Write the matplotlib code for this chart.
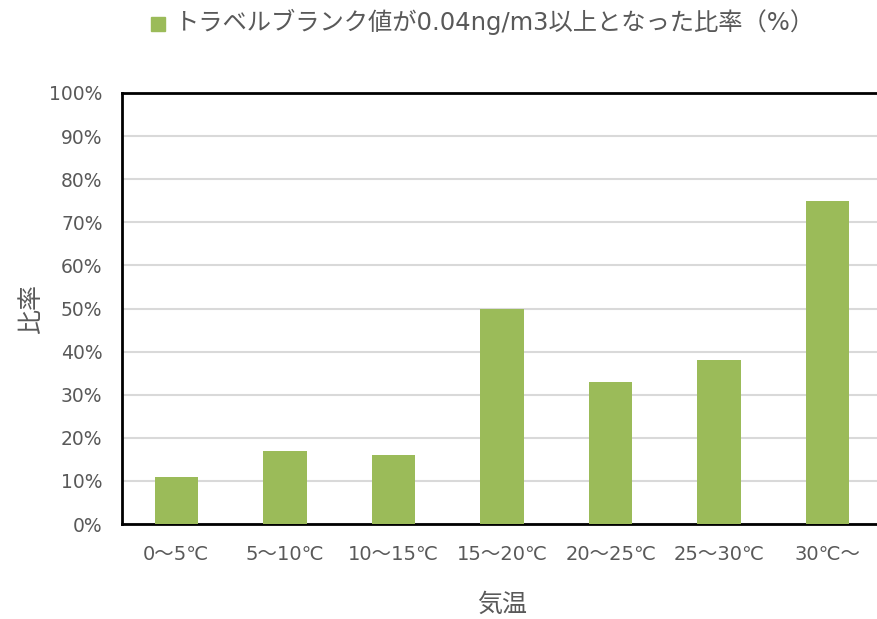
import matplotlib
matplotlib.use("Agg")
import matplotlib.pyplot as plt
from matplotlib.patches import Rectangle

plt.rcParams['font.family'] = ['DejaVu Sans', 'Noto Sans CJK JP']

categories = ["0〜5℃", "5〜10℃", "10〜15℃", "15〜20℃", "20〜25℃", "25〜30℃", "30℃〜"]
ratios = [11, 17, 16, 50, 33, 38, 75]
yticks = [0, 10, 20, 30, 40, 50, 60, 70, 80, 90, 100]
legend_label = "トラベルブランク値が0.04ng/m3以上となった比率（%）"

bar_color = "#9bbb59"
text_color = "#595959"
cjk = ['Noto Sans CJK JP', 'DejaVu Sans']

fig = plt.figure(figsize=(8.77, 6.19), dpi=100)
ax = fig.add_axes([122 / 877, 1 - 524 / 619, 760 / 877, 431 / 619])

x = list(range(len(categories)))
ax.bar(x, ratios, width=0.4, color=bar_color, zorder=3)

ax.set_xlim(-0.5, len(categories) - 0.5)
ax.set_ylim(0, 100)
ax.set_yticks(yticks)
ax.set_yticklabels([f"{v}%" for v in yticks], color=text_color, fontsize=13.5)
ax.set_xticks(x)
ax.set_xticklabels(categories, color=text_color, fontsize=14)
ax.tick_params(axis='y', length=0, pad=14)
ax.tick_params(axis='x', length=0, pad=15)

ax.grid(axis='y', color="#d9d9d9", linewidth=1.5, zorder=0)
for side in ['top', 'left', 'bottom', 'right']:
    ax.spines[side].set_color('black')
    ax.spines[side].set_linewidth(2)

ax.set_xlabel("気温", color=text_color, fontsize=18, labelpad=20, family=cjk)
ax.set_ylabel("比率", color=text_color, fontsize=18, labelpad=4, family=cjk)

# legend entry above the plot
fig.patches.append(Rectangle((151 / 877, 1 - 31 / 619), 14 / 877, 14 / 619,
                             transform=fig.transFigure, color=bar_color))
fig.text(175 / 877, 1 - 22 / 619, legend_label, color=text_color, fontsize=17.5,
         va='center', ha='left')

fig.savefig("out.png", dpi=100)
